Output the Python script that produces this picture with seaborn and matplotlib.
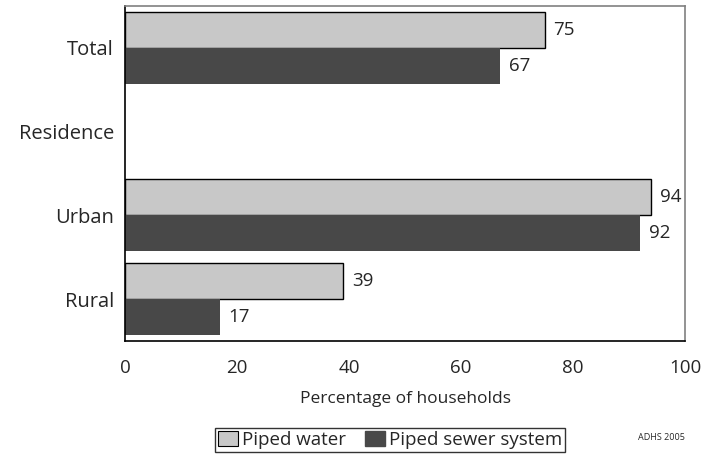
import pandas as pd
import numpy as np
import matplotlib.pyplot as plt
import seaborn as sns

categories = ["Total", "Residence", "Urban", "Rural"]
piped_water = [75, np.nan, 94, 39]
piped_sewer = [67, np.nan, 92, 17]
series = ["Piped water", "Piped sewer system"]

df = pd.DataFrame({
    "category": categories * 2,
    "value": piped_water + piped_sewer,
    "series": [series[0]] * 4 + [series[1]] * 4,
})

sns.set_style("white")
plt.rcParams["font.family"] = ["Open Sans", "DejaVu Sans"]

fig = plt.figure(figsize=(7.01, 4.57), dpi=100)
ax = fig.add_axes([125 / 701, 1 - 341 / 457, 560 / 701, 335 / 457])

sns.barplot(data=df, y="category", x="value", hue="series", order=categories,
            hue_order=series, palette=["#c8c8c8", "#484848"], orient="h",
            width=0.86, ax=ax, legend=False, saturation=1)

for i, cont in enumerate(ax.containers):
    for bar in cont:
        if i == 0:
            bar.set_edgecolor("black")
            bar.set_linewidth(1)
        else:
            bar.set_edgecolor("#484848")
            bar.set_linewidth(0)
    ax.bar_label(cont, labels=[("" if np.isnan(v) else f"{v:.0f}") for v in cont.datavalues],
                 padding=6, fontsize=13.5)

ax.set_xlim(0, 100)
ax.set_xticks([0, 20, 40, 60, 80, 100])
ax.tick_params(axis="x", labelsize=13.5, length=0, pad=13)
ax.tick_params(axis="y", labelsize=14.5, length=0, pad=8)
ax.set_ylabel("")
ax.set_xlabel("Percentage of households", fontsize=12.5, labelpad=10)
for side in ["top", "right"]:
    ax.spines[side].set_color("#808080")
for side in ["left", "bottom"]:
    ax.spines[side].set_color("black")
for s in ax.spines.values():
    s.set_linewidth(1.2)

handles = [plt.Rectangle((0, 0), 1, 1, facecolor="#c8c8c8", edgecolor="black", lw=0.8),
           plt.Rectangle((0, 0), 1, 1, facecolor="#484848", edgecolor="#484848")]
leg = fig.legend(handles, series, loc="center", bbox_to_anchor=(390 / 701, 1 - 440 / 457),
                 ncol=2, fontsize=13.5, frameon=True, fancybox=False, edgecolor="black",
                 handlelength=1.1, handleheight=0.8, handletextpad=0.2, columnspacing=1.0,
                 borderpad=0.15, borderaxespad=0)
leg.get_frame().set_linewidth(1)

fig.text(685 / 701, 1 - 438 / 457, "ADHS 2005", fontsize=6.5, ha="right", va="center")

fig.savefig("out.png", dpi=100)
